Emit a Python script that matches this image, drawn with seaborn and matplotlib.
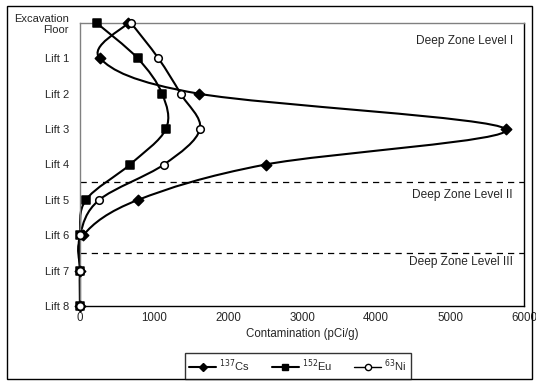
import numpy as np
import pandas as pd
import matplotlib
matplotlib.use("Agg")
import matplotlib.pyplot as plt
from matplotlib.path import Path
from matplotlib.patches import PathPatch, Rectangle
from matplotlib.lines import Line2D
import seaborn as sns

# ---- data ----
levels = ["Excavation\nFloor", "Lift 1", "Lift 2", "Lift 3", "Lift 4",
          "Lift 5", "Lift 6", "Lift 7", "Lift 8"]
cs137 = [650, 270, 1610, 5750, 2510, 785, 45, 0, 0]
eu152 = [225, 780, 1110, 1160, 675, 80, 0, 0, 0]
ni63 = [690, 1060, 1360, 1620, 1135, 260, 0, 0, 0]
series_labels = ["$^{137}$Cs", "$^{152}$Eu", "$^{63}$Ni"]
x_ticks = [0, 1000, 2000, 3000, 4000, 5000, 6000]
zone_labels = ["Deep Zone Level I", "Deep Zone Level II", "Deep Zone Level III"]

sns.set_theme(style="white")
plt.rcParams["font.family"] = ["Liberation Sans", "DejaVu Sans"]

fig = plt.figure(figsize=(5.36, 3.81), dpi=100)
ax = fig.add_axes([80/536, 1-306/381, (524-80)/536, (306-23)/381])

pos = np.arange(len(levels))
df = pd.DataFrame({"level": np.tile(pos, 3),
                   "value": cs137 + eu152 + ni63,
                   "series": np.repeat(series_labels, len(levels))})


def smooth_path(xs, ys):
    P = np.column_stack([xs, ys]).astype(float)
    n = len(P)
    verts = [P[0]]
    codes = [Path.MOVETO]
    for i in range(n - 1):
        p0 = P[i - 1] if i > 0 else P[i]
        p1 = P[i]
        p2 = P[i + 1]
        p3 = P[i + 2] if i + 2 < n else P[i + 1]
        c1 = p1 + (p2 - p0) / 6.0
        c2 = p2 - (p3 - p1) / 6.0
        verts += [c1, c2, p2]
        codes += [Path.CURVE4] * 3
    return Path(verts, codes)


styles = {
    series_labels[0]: dict(marker="D", s=28, fc="black"),
    series_labels[1]: dict(marker="s", s=32, fc="black"),
    series_labels[2]: dict(marker="o", s=30, fc="white"),
}
order = [series_labels[0], series_labels[1], series_labels[2]]
for name in order:
    sub = df[df.series == name]
    path = smooth_path(sub["value"].values, sub["level"].values)
    ax.add_patch(PathPatch(path, fill=False, ec="black", lw=1.5, zorder=2, clip_on=False))
for name in order:
    sub = df[df.series == name]
    st = styles[name]
    sns.scatterplot(x=sub["value"], y=sub["level"], marker=st["marker"], s=st["s"],
                    color=st["fc"], edgecolor="black", linewidth=1.1, ax=ax,
                    zorder=3, legend=False, clip_on=False)

ax.set_xlim(0, 6000)
ax.set_ylim(8, 0)
ax.set_xticks(x_ticks)
ax.set_xticklabels([str(t) for t in x_ticks], fontsize=8.3)
ax.set_yticks(pos)
ax.set_yticklabels(levels, fontsize=8, linespacing=1.15)
ax.tick_params(axis="x", direction="in", length=3, width=0.8, color="black", pad=4)
ax.tick_params(axis="y", direction="out", length=3, width=0.8, color="gray", pad=5)
ax.set_xlabel("Contamination (pCi/g)", fontsize=8.3, labelpad=3)
ax.set_ylabel("")
for s in ax.spines.values():
    s.set_color("black")
    s.set_linewidth(1.0)
ax.spines["left"].set_color("gray")
ax.spines["top"].set_color("gray")

ax.axhline(4.5, color="black", lw=0.9, ls=(0, (5, 4)), zorder=1)
ax.axhline(6.5, color="black", lw=0.9, ls=(0, (5, 4)), zorder=1)

ax.text(5850, 0.5, zone_labels[0], ha="right", va="center", fontsize=8.6)
ax.text(5850, 4.85, zone_labels[1], ha="right", va="center", fontsize=8.6)
ax.text(5850, 6.75, zone_labels[2], ha="right", va="center", fontsize=8.6)

handles = [
    Line2D([], [], color="black", lw=1.5, marker="D", ms=4.5, mfc="black", mec="black"),
    Line2D([], [], color="black", lw=1.5, marker="s", ms=5, mfc="black", mec="black"),
    Line2D([], [], color="black", lw=1.0, marker="o", ms=4.5, mfc="white", mec="black"),
]
leg = fig.legend(handles, series_labels, loc="center", bbox_to_anchor=(298/536, 1-366/381),
                 ncol=3, frameon=True, fontsize=8, handlelength=2.4, columnspacing=2.0,
                 borderpad=0.4, handletextpad=0.3, fancybox=False)
leg.get_frame().set_edgecolor("black")
leg.get_frame().set_linewidth(1.0)

fig.patches.append(Rectangle((7/536, 2/381), (532-7)/536, (375-2)/381,
                             transform=fig.transFigure, fill=False, ec="black", lw=1.0))

fig.savefig("out.png", dpi=100)
